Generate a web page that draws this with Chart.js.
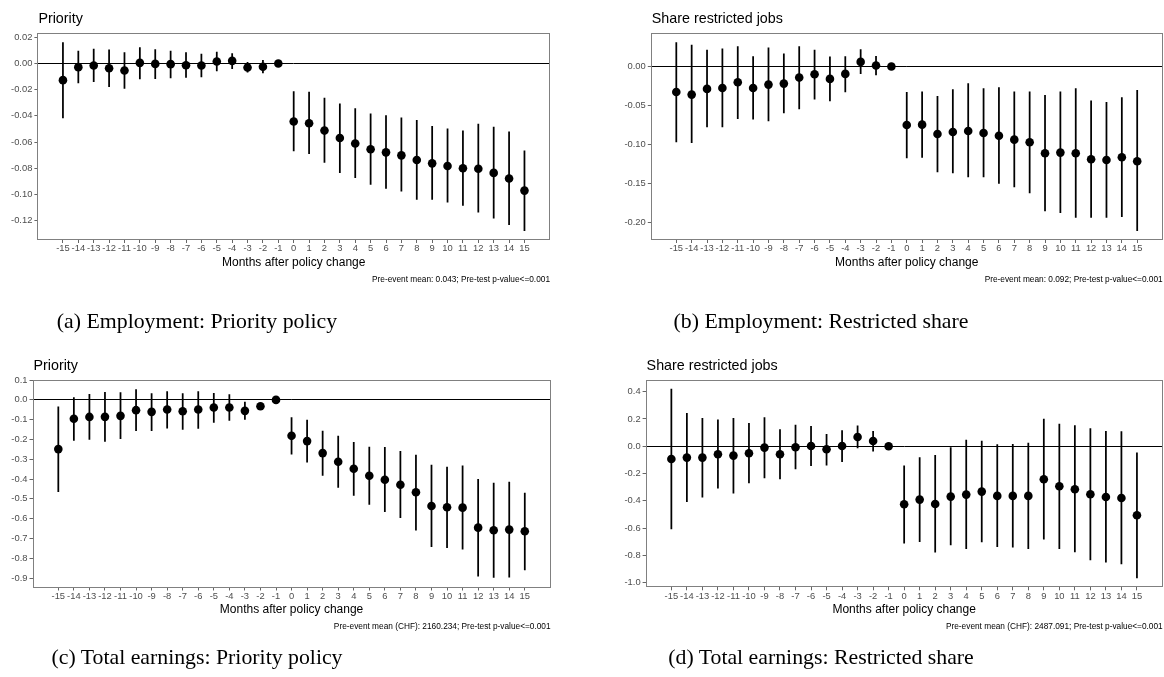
<!DOCTYPE html>
<html><head><meta charset="utf-8">
<script src="https://cdn.jsdelivr.net/npm/chart.js@4/dist/chart.umd.min.js"></script>
<style>
html,body{margin:0;padding:0;background:#fff;width:1164px;height:677px;overflow:hidden;position:relative}
canvas{position:absolute;left:0;top:0}
.cap{position:absolute;font-family:"Liberation Serif","DejaVu Serif",serif;font-size:21.8px;color:#000;white-space:nowrap;transform:translateX(-50%);line-height:26px}
</style></head><body>
<canvas id="cA" width="1170" height="677"></canvas>
<canvas id="cB" width="1170" height="677"></canvas>
<canvas id="cC" width="1170" height="677"></canvas>
<canvas id="cD" width="1170" height="677"></canvas>
<div class="cap" style="left:197px;top:308px">(a) Employment: Priority policy</div>
<div class="cap" style="left:821px;top:308px">(b) Employment: Restricted share</div>
<div class="cap" style="left:197px;top:644px">(c) Total earnings: Priority policy</div>
<div class="cap" style="left:821px;top:644px">(d) Total earnings: Restricted share</div>
<script>
// ---- data ----
const months = [-15,-14,-13,-12,-11,-10,-9,-8,-7,-6,-5,-4,-3,-2,-1,0,1,2,3,4,5,6,7,8,9,10,11,12,13,14,15];

const empPriorityEst = [-0.0127,-0.0028,-0.0015,-0.0036,-0.0054,0.0005,-0.0003,-0.0005,-0.0013,-0.0015,0.0015,0.0020,-0.0030,-0.0025,0,-0.0443,-0.0456,-0.0512,-0.0569,-0.0610,-0.0654,-0.0678,-0.0701,-0.0737,-0.0762,-0.0782,-0.0800,-0.0803,-0.0835,-0.0878,-0.0970];
const empPriorityHi  = [0.0160,0.0094,0.0110,0.0104,0.0084,0.0122,0.0107,0.0094,0.0084,0.0071,0.0087,0.0076,0.0008,0.0025,null,-0.0214,-0.0219,-0.0263,-0.0308,-0.0344,-0.0384,-0.0397,-0.0415,-0.0433,-0.0480,-0.0498,-0.0514,-0.0463,-0.0486,-0.0522,-0.0666];
const empPriorityLo  = [-0.0415,-0.0148,-0.0138,-0.0176,-0.0190,-0.0117,-0.0115,-0.0110,-0.0107,-0.0102,-0.0056,-0.0040,-0.0066,-0.0071,null,-0.0668,-0.0689,-0.0754,-0.0833,-0.0871,-0.0922,-0.0954,-0.0975,-0.1038,-0.1038,-0.1058,-0.1084,-0.1134,-0.1180,-0.1230,-0.1276];
const empPriorityTicks = [0.02,0.00,-0.02,-0.04,-0.06,-0.08,-0.10,-0.12];

const empShareEst = [-0.0325,-0.0359,-0.0286,-0.0274,-0.0201,-0.0274,-0.0231,-0.0218,-0.0141,-0.0098,-0.0158,-0.0094,0.0060,0.0013,0,-0.0748,-0.0744,-0.0864,-0.0838,-0.0826,-0.0851,-0.0885,-0.0936,-0.0970,-0.1111,-0.1102,-0.1111,-0.1187,-0.1196,-0.1162,-0.1213];
const empShareHi  = [0.0308,0.0274,0.0210,0.0227,0.0256,0.0128,0.0239,0.0162,0.0256,0.0210,0.0124,0.0128,0.0218,0.0132,null,-0.0329,-0.0325,-0.0380,-0.0295,-0.0218,-0.0282,-0.0269,-0.0325,-0.0325,-0.0368,-0.0325,-0.0282,-0.0440,-0.0457,-0.0397,-0.0303];
const empShareLo  = [-0.0966,-0.0974,-0.0774,-0.0774,-0.0667,-0.0675,-0.0697,-0.0594,-0.0543,-0.0419,-0.0440,-0.0325,-0.0090,-0.0107,null,-0.1170,-0.1162,-0.1349,-0.1362,-0.1413,-0.1413,-0.1498,-0.1540,-0.1617,-0.1847,-0.1872,-0.1932,-0.1932,-0.1932,-0.1923,-0.2102];
const empShareTicks = [0.00,-0.05,-0.10,-0.15,-0.20];

const earnPriorityEst = [-0.2485,-0.0950,-0.0860,-0.0857,-0.0806,-0.0519,-0.0604,-0.0486,-0.0570,-0.0486,-0.0385,-0.0385,-0.0553,-0.0318,0,-0.1815,-0.2082,-0.2687,-0.3125,-0.3478,-0.3831,-0.4032,-0.4284,-0.4668,-0.5358,-0.5423,-0.5443,-0.6452,-0.6583,-0.6552,-0.6633];
const earnPriorityHi  = [-0.0353,0.0120,0.0280,0.0388,0.0370,0.0524,0.0320,0.0420,0.0320,0.0420,0.0336,0.0270,-0.0116,-0.0250,null,-0.0889,-0.1023,-0.1578,-0.1830,-0.2149,-0.2384,-0.2401,-0.2603,-0.2787,-0.3291,-0.3392,-0.3326,-0.4012,-0.4199,-0.4148,-0.4703];
const earnPriorityLo  = [-0.4637,-0.2050,-0.1996,-0.2097,-0.1963,-0.1560,-0.1560,-0.1426,-0.1493,-0.1443,-0.1140,-0.1039,-0.0989,-0.0390,null,-0.2737,-0.3140,-0.3812,-0.4418,-0.4822,-0.5276,-0.5645,-0.5947,-0.6583,-0.7409,-0.7459,-0.7540,-0.8901,-0.8972,-0.8952,-0.8584];
const earnPriorityTicks = [0.1,0.0,-0.1,-0.2,-0.3,-0.4,-0.5,-0.6,-0.7,-0.8,-0.9];

const earnShareEst = [-0.0930,-0.0833,-0.0833,-0.0588,-0.0686,-0.0513,-0.0098,-0.0588,-0.0073,0.0024,-0.0220,0.0024,0.0680,0.0388,0,-0.4250,-0.3910,-0.4228,-0.3690,-0.3545,-0.3325,-0.3640,-0.3640,-0.3640,-0.2418,-0.2930,-0.3150,-0.3518,-0.3716,-0.3790,-0.5057];
const earnShareHi  = [0.4200,0.2417,0.2050,0.1930,0.2050,0.1685,0.2098,0.1219,0.1560,0.1466,0.0880,0.1145,0.1490,0.1100,null,-0.1440,-0.0833,-0.0660,-0.0098,0.0460,0.0388,0.0120,0.0146,0.0240,0.2000,0.1634,0.1510,0.1290,0.1100,0.1070,-0.0490];
const earnShareLo  = [-0.6060,-0.4060,-0.3740,-0.3080,-0.3445,-0.2690,-0.2323,-0.2396,-0.1663,-0.1420,-0.1390,-0.1128,-0.0122,-0.0366,null,-0.7110,-0.6990,-0.7770,-0.7230,-0.7504,-0.7010,-0.7355,-0.7400,-0.7504,-0.6816,-0.7504,-0.7746,-0.8333,-0.8504,-0.8626,-0.9650];
const earnShareTicks = [0.4,0.2,0.0,-0.2,-0.4,-0.6,-0.8,-1.0];

// ---- rendering ----
Chart.defaults.font.family = '"Liberation Sans", Arial, sans-serif';
const CW = 1170, CH = 677;
const TICK_FONT = 9.4;

function fmt(v, dec) { if (Math.abs(v) < 1e-9) v = 0; return v.toFixed(dec); }

function build(id, cfg) {
  const B = cfg.box;
  const yW = 45;
  const points = months.map((m, i) => ({x: m, y: cfg.est[i]}));
  const bars = months.map((m, i) => ({x: m, y: [cfg.lo[i], cfg.hi[i]]})).filter(d => d.y[0] !== null);
  const panel = {
    id: 'panel_' + id,
    afterDraw(chart) {
      const {ctx, chartArea: a} = chart;
      ctx.save();
      ctx.strokeStyle = '#808080';
      ctx.lineWidth = 1;
      const l = Math.round(a.left) + 0.5, t = Math.round(a.top) + 0.5;
      ctx.strokeRect(l, t, Math.round(a.right) - 1 - l + 0.5, Math.round(a.bottom) - 1 - t + 0.5);
      ctx.fillStyle = '#000';
      ctx.textBaseline = 'alphabetic';
      ctx.textAlign = 'left';
      ctx.font = '14.3px "Liberation Sans", Arial, sans-serif';
      ctx.fillText(cfg.title, a.left + 1, B.titleBase);
      ctx.textAlign = 'right';
      ctx.font = '8.3px "Liberation Sans", Arial, sans-serif';
      ctx.fillText(cfg.note, a.right, B.noteBase);
      ctx.restore();
    }
  };
  return new Chart(document.getElementById(id), {
    type: 'scatter',
    data: {datasets: [
      {type: 'scatter', data: points, pointRadius: 4.3, pointHoverRadius: 4.3, pointBackgroundColor: '#000', pointBorderWidth: 0},
      {type: 'bar', data: bars, backgroundColor: '#000', barThickness: 1.1, borderWidth: 0, grouped: false}
    ]},
    options: {
      responsive: false, animation: false, events: [],
      layout: {padding: {left: B.left - yW, top: B.top, right: CW - B.right, bottom: 0}},
      plugins: {legend: {display: false}, tooltip: {enabled: false}, title: {display: false}},
      scales: {
        x: {
          type: 'linear', min: -16.66, max: 16.66, offset: false,
          afterBuildTicks: s => { s.ticks = months.map(v => ({value: v})); },
          afterFit: s => { s.height = CH - B.bottom; },
          grid: {drawOnChartArea: false, drawTicks: true, tickLength: 3, tickColor: '#666', offset: false},
          border: {display: false},
          ticks: {autoSkip: false, maxRotation: 0, minRotation: 0, padding: 0, color: '#4d4d4d', font: {size: TICK_FONT}, callback: v => String(v)},
          title: {display: true, text: 'Months after policy change', color: '#000', font: {size: 12}, padding: {top: 0, bottom: CH - B.xTitleMid - 7.2}}
        },
        y: {
          type: 'linear', min: cfg.yMin, max: cfg.yMax,
          afterBuildTicks: s => { s.ticks = cfg.ticks.map(v => ({value: v})); },
          afterFit: s => { s.width = yW; },
          grid: {drawOnChartArea: true, color: c => (c.tick && Math.abs(c.tick.value) < 1e-9) ? '#000' : 'rgba(0,0,0,0)', lineWidth: 1, drawTicks: true, tickLength: 3, tickColor: '#666'},
          border: {display: false},
          ticks: {padding: 2, color: '#4d4d4d', font: {size: TICK_FONT}, callback: v => fmt(v, cfg.dec)}
        }
      }
    },
    plugins: [panel]
  });
}

build('cA', {title: 'Priority', note: 'Pre-event mean: 0.043; Pre-test p-value<=0.001',
  est: empPriorityEst, lo: empPriorityLo, hi: empPriorityHi, ticks: empPriorityTicks, dec: 2, yMin: -0.1347, yMax: 0.0235,
  box: {left: 37.4, top: 32.7, right: 550, bottom: 240, titleBase: 22.7, xTitleMid: 262.3, noteBase: 282}});
build('cB', {title: 'Share restricted jobs', note: 'Pre-event mean: 0.092; Pre-test p-value<=0.001',
  est: empShareEst, lo: empShareLo, hi: empShareHi, ticks: empShareTicks, dec: 2, yMin: -0.2221, yMax: 0.0435,
  box: {left: 650.8, top: 32.6, right: 1162.7, bottom: 240, titleBase: 22.7, xTitleMid: 262.3, noteBase: 282}});
build('cC', {title: 'Priority', note: 'Pre-event mean (CHF): 2160.234; Pre-test p-value<=0.001',
  est: earnPriorityEst, lo: earnPriorityLo, hi: earnPriorityHi, ticks: earnPriorityTicks, dec: 1, yMin: -0.9476, yMax: 0.103,
  box: {left: 32.5, top: 379.5, right: 550.6, bottom: 587.5, titleBase: 369.5, xTitleMid: 609.5, noteBase: 628.5}});
build('cD', {title: 'Share restricted jobs', note: 'Pre-event mean (CHF): 2487.091; Pre-test p-value<=0.001',
  est: earnShareEst, lo: earnShareLo, hi: earnShareHi, ticks: earnShareTicks, dec: 1, yMin: -1.034, yMax: 0.4857,
  box: {left: 645.6, top: 380, right: 1162.7, bottom: 587.3, titleBase: 369.5, xTitleMid: 609.5, noteBase: 628.5}});
</script>
</body></html>
